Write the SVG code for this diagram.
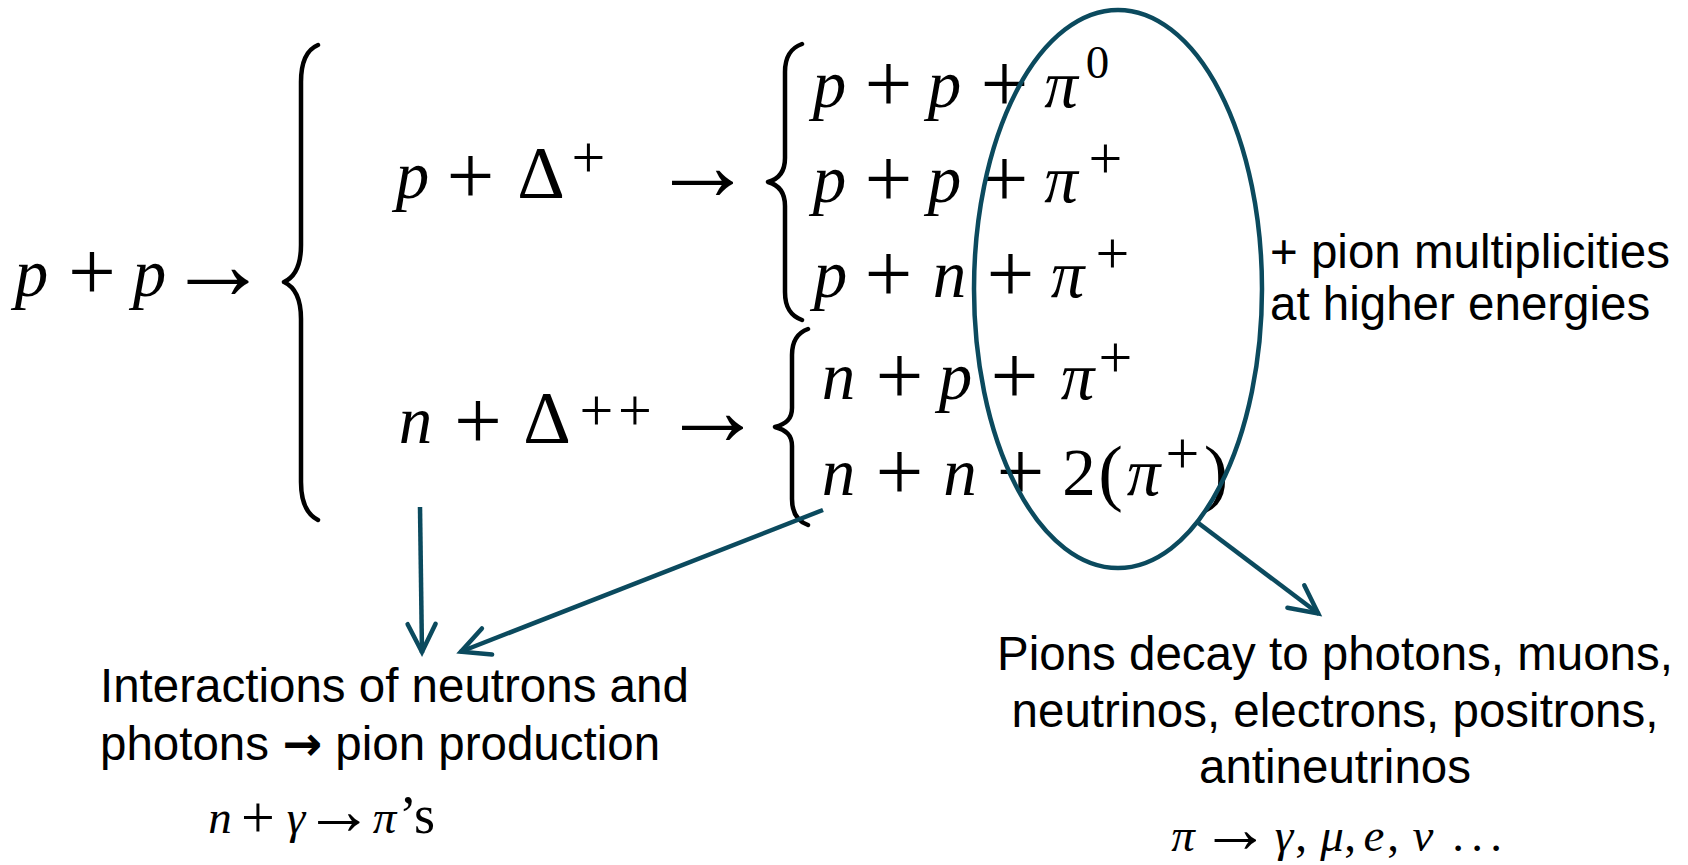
<svg xmlns="http://www.w3.org/2000/svg" width="1688" height="865" viewBox="0 0 1688 865">
<defs>
<style>
.m{font-family:"Liberation Serif","DejaVu Serif",serif;fill:#000;text-anchor:middle}
.i{font-style:italic}
.L{font-size:67px}
.P{font-size:85px}
.S{font-size:60px}
.A{font-size:103px}
.D{font-size:74px}
.s{font-size:47px}
.sP{font-size:60px}
.sA{font-size:70px}
.t{font-family:"Liberation Sans",Arial,sans-serif;font-size:47.5px;fill:#000}
.wa{font-family:"DejaVu Sans",sans-serif;font-weight:bold}
.brace{fill:none;stroke:#000;stroke-width:4.5;stroke-linecap:round;stroke-linejoin:round}
.con{fill:none;stroke:#0B4A5E;stroke-width:4.5;stroke-linecap:butt}
</style>
<marker id="ah" markerUnits="userSpaceOnUse" markerWidth="50" markerHeight="50" viewBox="-40 -25 50 50" refX="0" refY="0" orient="auto">
<path d="M-29,-14 L-1,0 L-29,14" fill="none" stroke="#0B4A5E" stroke-width="4.5" stroke-linecap="round" stroke-linejoin="miter"/>
</marker>
</defs>
<rect width="1688" height="865" fill="#fff"/>

<g id="reaction-main">
<text class="m L i" x="31.5" y="296">p</text>
<text class="m P" x="92" y="299.5">+</text>
<text class="m L i" x="149.5" y="296">p</text>
<text class="m A" x="218" y="299">→</text>
<path class="brace" d="M318,45 C306,50 301,62 301,82 L301,245 C301,266 295,277 284,282 C295,287 301,298 301,319 L301,482 C301,502 306,514 318,520"/>
</g>

<g id="branch-delta-plus">
<text class="m L i" x="412.5" y="198">p</text>
<text class="m P" x="470.5" y="203.5">+</text>
<text class="m D" x="541" y="198">Δ</text>
<text class="m S" x="588.5" y="177">+</text>
<text class="m A" x="702.5" y="200">→</text>
<path class="brace" d="M802,44 C791,48 785,56 785,72 L785,158 C785,172 779,179 768,182 C779,185 785,192 785,206 L785,292 C785,308 791,316 802,320"/>
</g>

<g id="branch-delta-plusplus">
<text class="m L i" x="415.5" y="443">n</text>
<text class="m P" x="478" y="448.5">+</text>
<text class="m D" x="547" y="443">Δ</text>
<text class="m S" x="596.5" y="430">+</text>
<text class="m S" x="635" y="430">+</text>
<text class="m A" x="712.5" y="445">→</text>
<path class="brace" d="M808,329 C797,333 792,341 792,355 L792,408 C792,419 786,424 775,427 C786,430 792,435 792,446 L792,499 C792,513 797,521 808,525"/>
</g>

<g id="product-1">
<text class="m L i" x="829.5" y="107">p</text>
<text class="m P" x="888.5" y="111.5">+</text>
<text class="m L i" x="944.5" y="107">p</text>
<text class="m P" x="1004.5" y="111.5">+</text>
<text class="m L i" x="1061" y="107">π</text>
<text class="m s" x="1097.5" y="78">0</text>
</g>

<g id="product-2">
<text class="m L i" x="829.5" y="202">p</text>
<text class="m P" x="888.5" y="206.5">+</text>
<text class="m L i" x="944.5" y="202">p</text>
<text class="m P" x="1004.5" y="206.5">+</text>
<text class="m L i" x="1061" y="202">π</text>
<text class="m S" x="1105.5" y="178">+</text>
</g>

<g id="product-3">
<text class="m L i" x="830.5" y="297">p</text>
<text class="m P" x="888.5" y="301.5">+</text>
<text class="m L i" x="949.5" y="297">n</text>
<text class="m P" x="1010.5" y="301.5">+</text>
<text class="m L i" x="1067.5" y="297">π</text>
<text class="m S" x="1112.5" y="273">+</text>
</g>

<g id="product-4">
<text class="m L i" x="838.5" y="399">n</text>
<text class="m P" x="899.5" y="403.5">+</text>
<text class="m L i" x="955.5" y="399">p</text>
<text class="m P" x="1014.5" y="403.5">+</text>
<text class="m L i" x="1077.5" y="399">π</text>
<text class="m S" x="1115.5" y="377">+</text>
</g>

<g id="product-5">
<text class="m L i" x="838.5" y="495">n</text>
<text class="m P" x="899.5" y="499.5">+</text>
<text class="m L i" x="960" y="495">n</text>
<text class="m P" x="1020.5" y="499.5">+</text>
<text class="m L" x="1079" y="495">2</text>
<text class="m D" x="1110.5" y="497">(</text>
<text class="m L i" x="1143.5" y="495">π</text>
<text class="m S" x="1182.5" y="473">+</text>
<text class="m D" x="1216" y="497">)</text>
</g>

<g id="ellipse-pions">
<ellipse cx="1118" cy="289" rx="144" ry="279" fill="none" stroke="#0B4A5E" stroke-width="4.5"/>
</g>

<g id="note-multiplicities">
<text class="t" x="1270" y="268">+ pion multiplicities</text>
<text class="t" x="1270" y="320">at higher energies</text>
</g>

<g id="note-interactions">
<text class="t" x="100" y="702">Interactions of neutrons and</text>
<text class="t" x="100" y="760">photons <tspan class="wa">→</tspan> pion production</text>
<text class="m s i" x="220" y="833">n</text>
<text class="m sP" x="258" y="837">+</text>
<text class="m s i" x="296" y="833">γ</text>
<text class="m sA" x="339" y="833.5">→</text>
<text class="m s i" x="384.5" y="833">π</text>
<text class="m" style="font-size:54px;text-anchor:start" x="399" y="833">’s</text>
</g>

<g id="note-decay">
<text class="t" x="1335" y="670" text-anchor="middle">Pions decay to photons, muons,</text>
<text class="t" x="1335" y="727" text-anchor="middle">neutrinos, electrons, positrons,</text>
<text class="t" x="1335" y="783" text-anchor="middle">antineutrinos</text>
<text class="m s i" x="1183" y="851">π</text>
<text class="m sA" x="1235.5" y="852">→</text>
<text class="m s i" x="1284" y="851">γ</text>
<text class="m s" x="1301" y="851">,</text>
<text class="m s i" x="1332" y="851">μ</text>
<text class="m s" x="1350" y="851">,</text>
<text class="m s i" x="1374" y="851">e</text>
<text class="m s" x="1393" y="851">,</text>
<text class="m s i" x="1423" y="851">ν</text>
<text class="m s" x="1458" y="851">.</text>
<text class="m s" x="1477" y="851">.</text>
<text class="m s" x="1496" y="851">.</text>
</g>

<g id="connectors">
<path class="con" d="M420,507 L422,653" marker-end="url(#ah)"/>
<path class="con" d="M823,510 L460,652" marker-end="url(#ah)"/>
<path class="con" d="M1197,522 L1319,614" marker-end="url(#ah)"/>
</g>
</svg>
